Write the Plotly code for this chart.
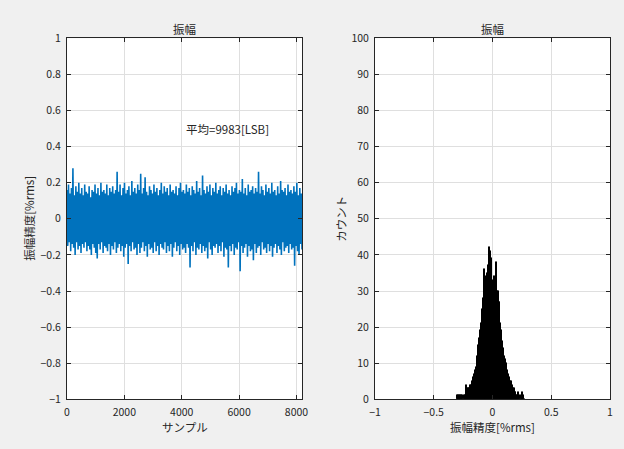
import numpy as np
import plotly.graph_objects as go

# ---------------- data ----------------
# left panel: per-column upper / lower excursions of the amplitude-accuracy trace [%rms]
upper = [
    0.16, 0.19, 0.14, 0.17, 0.28, 0.13, 0.18, 0.15, 0.20, 0.14,
    0.17, 0.13, 0.19, 0.15, 0.14, 0.18, 0.12, 0.16, 0.15, 0.19,
    0.14, 0.17, 0.13, 0.20, 0.15, 0.16, 0.14, 0.19, 0.13, 0.17,
    0.15, 0.18, 0.14, 0.16, 0.26, 0.15, 0.19, 0.13, 0.17, 0.20,
    0.14, 0.16, 0.18, 0.13, 0.21, 0.15, 0.17, 0.14, 0.19, 0.16,
    0.25, 0.14, 0.17, 0.23, 0.15, 0.13, 0.18, 0.16, 0.14, 0.19,
    0.15, 0.17, 0.13, 0.16, 0.20, 0.14, 0.18, 0.15, 0.17, 0.13,
    0.19, 0.15, 0.16, 0.14, 0.18, 0.13, 0.17, 0.20, 0.15, 0.16,
    0.14, 0.19, 0.15, 0.17, 0.13, 0.18, 0.16, 0.14, 0.21, 0.15,
    0.17, 0.13, 0.24, 0.16, 0.14, 0.18, 0.15, 0.19, 0.13, 0.17,
    0.15, 0.20, 0.14, 0.16, 0.18, 0.13, 0.17, 0.15, 0.19, 0.14,
    0.16, 0.13, 0.18, 0.15, 0.17, 0.20, 0.14, 0.16, 0.15, 0.22,
    0.14, 0.17, 0.13, 0.19, 0.15, 0.16, 0.18, 0.14, 0.17, 0.15,
    0.26, 0.14, 0.18, 0.16, 0.13, 0.19, 0.15, 0.17, 0.14, 0.20,
    0.15, 0.16, 0.13, 0.18, 0.14, 0.21, 0.16, 0.15, 0.17, 0.13,
    0.19, 0.15, 0.16, 0.14, 0.18, 0.15, 0.20, 0.13, 0.17, 0.14,
]
lower = [
    -0.15, -0.13, -0.18, -0.14, -0.16, -0.20, -0.13, -0.17, -0.15, -0.19,
    -0.14, -0.16, -0.13, -0.18, -0.15, -0.17, -0.20, -0.14, -0.16, -0.19,
    -0.22, -0.14, -0.17, -0.13, -0.19, -0.15, -0.16, -0.18, -0.14, -0.20,
    -0.15, -0.17, -0.13, -0.19, -0.16, -0.14, -0.18, -0.15, -0.21, -0.16,
    -0.14, -0.25, -0.15, -0.18, -0.13, -0.17, -0.16, -0.20, -0.14, -0.19,
    -0.16, -0.13, -0.18, -0.15, -0.21, -0.14, -0.17, -0.16, -0.19, -0.13,
    -0.18, -0.15, -0.20, -0.14, -0.16, -0.17, -0.13, -0.19, -0.15, -0.18,
    -0.14, -0.21, -0.16, -0.13, -0.18, -0.15, -0.20, -0.14, -0.17, -0.16,
    -0.19, -0.14, -0.16, -0.27, -0.15, -0.18, -0.13, -0.20, -0.16, -0.17,
    -0.14, -0.19, -0.15, -0.18, -0.16, -0.22, -0.13, -0.17, -0.20, -0.15,
    -0.16, -0.14, -0.19, -0.15, -0.18, -0.13, -0.21, -0.16, -0.17, -0.27,
    -0.15, -0.18, -0.14, -0.20, -0.16, -0.17, -0.13, -0.29, -0.15, -0.19,
    -0.16, -0.14, -0.21, -0.15, -0.18, -0.17, -0.23, -0.14, -0.19, -0.16,
    -0.15, -0.20, -0.13, -0.17, -0.16, -0.19, -0.14, -0.18, -0.15, -0.21,
    -0.16, -0.14, -0.19, -0.15, -0.17, -0.20, -0.13, -0.18, -0.16, -0.15,
    -0.19, -0.14, -0.17, -0.16, -0.26, -0.15, -0.18, -0.20, -0.14, -0.17,
]
n_samples = 8192

# right panel: histogram of amplitude accuracy (bin centres [%rms], counts)
bin_width = 0.008
bin_centers = [
    -0.296, -0.288, -0.280, -0.272, -0.264, -0.256, -0.248, -0.240, -0.232, -0.224,
    -0.216, -0.208, -0.200, -0.192, -0.184, -0.176, -0.168, -0.160, -0.152, -0.144,
    -0.136, -0.128, -0.120, -0.112, -0.104, -0.096, -0.088, -0.080, -0.072, -0.064,
    -0.056, -0.048, -0.040, -0.032, -0.024, -0.016, -0.008, 0.000, 0.008, 0.016,
    0.024, 0.032, 0.040, 0.048, 0.056, 0.064, 0.072, 0.080, 0.088, 0.096,
    0.104, 0.112, 0.120, 0.128, 0.136, 0.144, 0.152, 0.160, 0.168, 0.176,
    0.184, 0.192, 0.200, 0.208, 0.216, 0.224, 0.232, 0.240, 0.248, 0.256,
    0.264, 0.272,
]
counts = [
    1, 1, 1, 1, 1, 1, 0, 1, 1, 4,
    3, 3, 3, 3, 4, 4, 5, 6, 7, 8,
    9, 12, 15, 17, 19, 21, 25, 28, 36, 31,
    34, 33, 35, 37, 42, 41, 39, 33, 32, 34,
    31, 38, 30, 30, 27, 27, 21, 19, 16, 14,
    12, 11, 10, 8, 7, 6, 5, 5, 4, 3,
    3, 2, 2, 1, 1, 2, 1, 0, 1, 2,
    1, 0,
]

title_text = "振幅"
left_xlabel = "サンプル"
left_ylabel = "振幅精度[%rms]"
right_xlabel = "振幅精度[%rms]"
right_ylabel = "カウント"
mean_text = "平均=9983[LSB]"
left_xticks = [0, 2000, 4000, 6000, 8000]
left_yticks = [-1, -0.8, -0.6, -0.4, -0.2, 0, 0.2, 0.4, 0.6, 0.8, 1]
right_xticks = [-1, -0.5, 0, 0.5, 1]
right_yticks = [0, 10, 20, 30, 40, 50, 60, 70, 80, 90, 100]

# ---------------- figure ----------------
W, H = 624, 449
FONT = "Noto Sans CJK JP, Noto Sans, sans-serif"
TXT = "#262626"

trace_y = []
for u, l in zip(upper, lower):
    trace_y.append(u)
    trace_y.append(l)
trace_x = np.linspace(1, n_samples, len(trace_y))

fig = go.Figure()
fig.add_trace(go.Scatter(
    x=trace_x, y=trace_y, mode="lines",
    line=dict(color="#0072BD", width=1.6, simplify=False),
    xaxis="x", yaxis="y", showlegend=False, hoverinfo="skip",
))
fig.add_trace(go.Bar(
    x=bin_centers, y=counts, width=bin_width,
    marker=dict(color="black", line=dict(color="black", width=1)),
    xaxis="x2", yaxis="y2", showlegend=False,
))

def px_x(p):
    return p / W

def px_y(p):
    return 1 - p / H

L1, R1 = 67, 302
L2, R2 = 375, 610
TOP, BOT = 38.3, 399.3

def tick_txt(v):
    return ("\u2212" if v < 0 else "") + ("%g" % abs(v))

axis_common = dict(
    showline=True, linecolor=TXT, linewidth=1, mirror="ticks",
    ticks="inside", ticklen=4, tickcolor=TXT, tickwidth=1,
    showgrid=True, gridcolor="#dfdfdf", gridwidth=1,
    zeroline=False, tickfont=dict(family=FONT, size=10.5, color=TXT),
    tickmode="array", automargin=False, ticklabelstandoff=3,
)

fig.update_layout(
    width=W, height=H,
    margin=dict(l=0, r=0, t=0, b=0, autoexpand=False),
    paper_bgcolor="#f0f0f0", plot_bgcolor="white",
    bargap=0,
    font=dict(family=FONT, size=11, color=TXT),
    xaxis=dict(domain=[px_x(L1), px_x(R1)], range=[0, n_samples],
               tickvals=left_xticks, ticktext=[str(v) for v in left_xticks],
               anchor="y", **axis_common),
    yaxis=dict(domain=[px_y(BOT), px_y(TOP)], range=[-1, 1],
               tickvals=left_yticks, ticktext=[tick_txt(v) for v in left_yticks],
               anchor="x", **axis_common),
    xaxis2=dict(domain=[px_x(L2), px_x(R2)], range=[-1, 1],
                tickvals=right_xticks, ticktext=[tick_txt(v) for v in right_xticks],
                anchor="y2", **axis_common),
    yaxis2=dict(domain=[px_y(BOT), px_y(TOP)], range=[0, 100],
                tickvals=right_yticks, ticktext=[str(v) for v in right_yticks],
                anchor="x2", **axis_common),
)

ann = []
def add_text(text, x, y, size=11.5, angle=0, xanchor="center", xref="paper", yref="paper"):
    ann.append(dict(text=text, x=x, y=y, xref=xref, yref=yref, showarrow=False,
                    xanchor=xanchor, yanchor="middle", textangle=angle,
                    font=dict(family=FONT, size=size, color=TXT)))

add_text(title_text, px_x((L1 + R1) / 2), px_y(29))
add_text(title_text, px_x((L2 + R2) / 2), px_y(29))
add_text(left_xlabel, px_x((L1 + R1) / 2), px_y(427))
add_text(right_xlabel, px_x((L2 + R2) / 2), px_y(427))
add_text(left_ylabel, px_x(29), px_y((TOP + BOT) / 2), angle=-90)
add_text(right_ylabel, px_x(341), px_y((TOP + BOT) / 2), angle=-90)
add_text(mean_text, 4070, 0.5, xanchor="left", xref="x", yref="y")
fig.update_layout(annotations=ann)

fig.write_html("out.html")
